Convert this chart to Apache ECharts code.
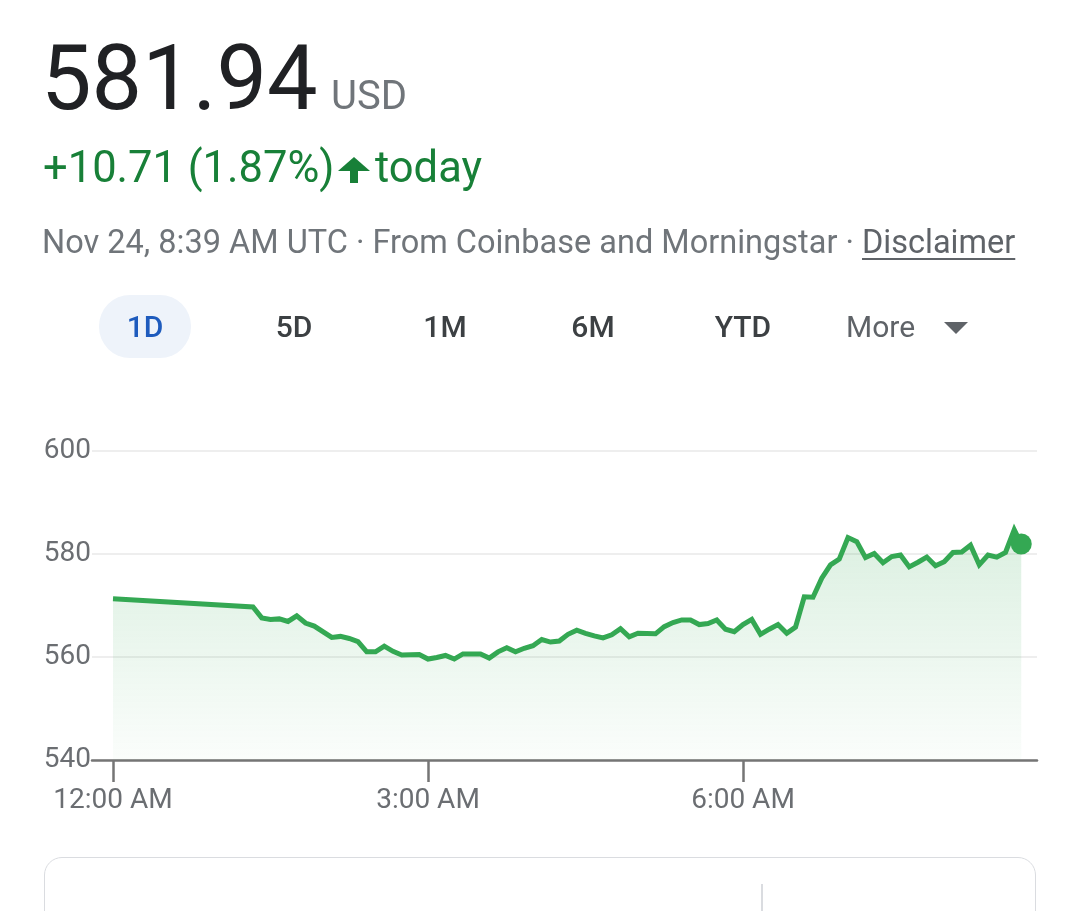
<!DOCTYPE html>
<html>
<head>
<meta charset="utf-8">
<script src="https://cdn.jsdelivr.net/npm/echarts@6/dist/echarts.min.js"></script>
<style>
  html, body { margin:0; padding:0; background:#fff; width:1080px; height:911px; overflow:hidden; font-family: Roboto, "Noto Sans", Arial, sans-serif; }
  #chart { position:absolute; left:0; top:0; width:1080px; height:911px; z-index:0; }
  .t { position:absolute; white-space:nowrap; z-index:2; }
</style>
</head>
<body>
<div id="chart"></div>

<div class="t" style="left:41px; top:34px; font-size:90px; line-height:90px; color:#202124;">581.94</div>
<div class="t" style="left:331px; top:76px; font-size:40px; line-height:40px; color:#70757a;">USD</div>

<div class="t" style="left:43px; top:146px; font-size:43.5px; line-height:43.5px; color:#188038;">+10.71 (1.87%)</div>
<svg class="t" style="left:338px; top:157px;" width="32" height="26" viewBox="0 0 32 26">
  <polygon points="0,14 16,0 32,14" fill="#188038"/>
  <rect x="12" y="10" width="8" height="16" fill="#188038"/>
</svg>
<div class="t" style="left:375px; top:146px; font-size:43.5px; line-height:43.5px; color:#188038;">today</div>

<div class="t" style="left:42px; top:226px; font-size:32.5px; line-height:32.5px; color:#70757a;">Nov 24, 8:39 AM UTC · From Coinbase and Morningstar · <span style="text-decoration:underline; text-decoration-thickness:2px; text-underline-offset:5px; color:#5f6368;">Disclaimer</span></div>

<div class="t" style="left:99px; top:295px; width:92px; height:63px; border-radius:31px; background:#eef3fa; z-index:1;"></div>
<div class="t" style="left:85px; top:312px; width:120px; text-align:center; font-size:30px; line-height:30px; font-weight:500; color:#1e5bbd;">1D</div>
<div class="t" style="left:234px; top:312px; width:120px; text-align:center; font-size:30px; line-height:30px; font-weight:500; color:#3c4043;">5D</div>
<div class="t" style="left:385px; top:312px; width:120px; text-align:center; font-size:30px; line-height:30px; font-weight:500; color:#3c4043;">1M</div>
<div class="t" style="left:533px; top:312px; width:120px; text-align:center; font-size:30px; line-height:30px; font-weight:500; color:#3c4043;">6M</div>
<div class="t" style="left:683px; top:312px; width:120px; text-align:center; font-size:30px; line-height:30px; font-weight:500; color:#3c4043;">YTD</div>
<div class="t" style="left:846px; top:312px; font-size:30px; line-height:30px; color:#5f6368;">More</div>
<div class="t" style="left:944px; top:322px; width:0; height:0; border-left:12px solid transparent; border-right:12px solid transparent; border-top:12px solid #5f6368;"></div>

<div class="t" style="left:44px; top:857px; width:990px; height:120px; border:1.5px solid #dadce0; border-radius:18px; z-index:1;"></div>
<div class="t" style="left:761px; top:884px; width:1.5px; height:60px; background:#dadce0; z-index:1;"></div>

<script>
// Minutes after 12:00 AM (UTC), Nov 24
const times = [0, 80, 85, 90, 95, 100, 105, 110, 115, 125, 130, 135, 140, 145, 150, 155, 160, 165, 175, 180,
  185, 190, 195, 200, 210, 215, 220, 225, 230, 235, 240, 245, 250, 255, 260, 265, 270, 275, 280, 285,
  290, 295, 300, 310, 315, 320, 325, 330, 335, 340, 345, 350, 355, 360, 365, 370, 375, 380, 385, 390,
  395, 400, 405, 410, 415, 420, 425, 430, 435, 440, 445, 450, 455, 460, 465, 470, 475, 480, 485, 490,
  495, 500, 505, 510, 515, 519];
// Price in USD
const prices = [571.3, 569.7, 567.6, 567.3, 567.4, 566.9, 568.0, 566.6, 566.0, 563.8, 564.0, 563.6, 563.0, 561.0, 561.0, 562.1, 561.1, 560.4, 560.5, 559.6,
  559.9, 560.3, 559.6, 560.6, 560.6, 559.8, 561.0, 561.8, 561.0, 561.7, 562.2, 563.4, 562.9, 563.1, 564.4, 565.2, 564.6, 564.1, 563.7, 564.3,
  565.5, 563.9, 564.6, 564.5, 565.9, 566.7, 567.2, 567.2, 566.3, 566.5, 567.2, 565.4, 564.9, 566.3, 567.3, 564.4, 565.4, 566.3, 564.6, 565.8,
  571.7, 571.6, 575.3, 577.9, 579.0, 583.2, 582.4, 579.3, 580.1, 578.3, 579.5, 579.8, 577.5, 578.4, 579.4, 577.7, 578.5, 580.3, 580.4, 581.7,
  577.9, 579.8, 579.4, 580.3, 584.7, 581.94];
const xTickValues = [0, 180, 360];
const xTickLabels = ['12:00 AM', '3:00 AM', '6:00 AM'];
const yMin = 540, yMax = 600, yStep = 20;

const lineData = times.map((t, i) => [t, prices[i]]);
const lastPoint = [[times[times.length - 1], prices[prices.length - 1]]];

const chart = echarts.init(document.getElementById('chart'), null, { renderer: 'canvas' });
chart.setOption({
  animation: false,
  backgroundColor: 'transparent',
  grid: { left: 92, right: 43, top: 451, bottom: 151, containLabel: false },
  xAxis: {
    type: 'value', min: -12, max: 528,
    axisLine: { show: true, lineStyle: { color: '#757575', width: 2.5 } },
    axisTick: { show: true, customValues: xTickValues, length: 22, lineStyle: { color: '#757575', width: 2.5 } },
    axisLabel: {
      show: true, customValues: xTickValues, margin: 27,
      fontSize: 28, fontFamily: 'Roboto', color: '#6b6e72',
      formatter: v => xTickLabels[xTickValues.indexOf(v)] || ''
    },
    splitLine: { show: false }
  },
  yAxis: {
    type: 'value', min: yMin, max: yMax, interval: yStep,
    axisLine: { show: false }, axisTick: { show: false },
    axisLabel: { margin: 1, fontSize: 28, fontFamily: 'Roboto', color: '#6b6e72' },
    splitLine: { show: true, lineStyle: { color: '#eeeeee', width: 2 } }
  },
  series: [
    {
      type: 'line', data: lineData, showSymbol: false, symbol: 'none',
      lineStyle: { color: '#34a853', width: 5, join: 'miter' },
      areaStyle: {
        color: new echarts.graphic.LinearGradient(0, 0, 0, 1, [
          { offset: 0, color: 'rgba(52,168,83,0.25)' },
          { offset: 1, color: 'rgba(52,168,83,0.03)' }
        ])
      },
      z: 2
    },
    {
      type: 'scatter', data: lastPoint, symbol: 'circle', symbolSize: 21,
      itemStyle: { color: '#34a853', opacity: 1 }, z: 3
    }
  ]
});
</script>
</body>
</html>
